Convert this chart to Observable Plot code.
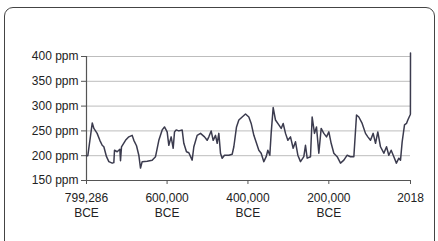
<!DOCTYPE html>
<html>
<head>
<meta charset="utf-8">
<script src="https://cdn.jsdelivr.net/npm/d3@7"></script>
<script src="https://cdn.jsdelivr.net/npm/@observablehq/plot@0.6"></script>
<style>
  html, body { margin: 0; padding: 0; background: #fff; }
  #wrap { position: relative; width: 438px; height: 241px; overflow: hidden; }
  #frame { position: absolute; left: 4px; top: 7px; width: 431px; height: 245px;
           border: 1.5px solid #444; border-radius: 9px; box-sizing: border-box; }
  #chart { position: absolute; left: 0; top: 0; }
</style>
</head>
<body>
<div id="wrap"><div id="frame"></div><div id="chart"></div></div>
<script>
// Year (negative = BCE) and CO2 concentration (ppm)
const years = [-799286,-796000,-785000,-781000,-773000,-766300,-760500,-756400,-749800,-744000,-735800,-731700,-730000,-723400,-716800,-715200,-712700,-702800,-694600,-686300,-682200,-675600,-669900,-665700,-661600,-649200,-636900,-628600,-620400,-612100,-606400,-599800,-595700,-589900,-584900,-581600,-577500,-570900,-562700,-558600,-552000,-546200,-538000,-533800,-525600,-517300,-507400,-500900,-496700,-491000,-486000,-480200,-476100,-472000,-467900,-463800,-458000,-447300,-439000,-434900,-428300,-422500,-414300,-406000,-397800,-392000,-385400,-378800,-373100,-367300,-360700,-354900,-350800,-345900,-342600,-337600,-331900,-323600,-317800,-312900,-307100,-301300,-294800,-288200,-282400,-276600,-270000,-261800,-257700,-253500,-245300,-241200,-235400,-230500,-224700,-218900,-212300,-205700,-199900,-194200,-187600,-179300,-171100,-162800,-154600,-146400,-138100,-131500,-125800,-117500,-109300,-103500,-96900,-90300,-84500,-78800,-72200,-63900,-57300,-51600,-45800,-39200,-32900,-26800,-22700,-18600,-12800,-7900,-4600,1000,1800,2018];
const co2 = [200,200,266,255,245,231,221,218,198,188,185,186,211,208,213,190,218,231,238,241,231,220,201,175,188,189,191,198,231,252,258,248,221,238,215,248,252,250,252,225,208,206,191,218,241,245,238,231,238,250,231,241,225,245,205,195,201,201,203,218,258,272,278,284,278,265,241,225,211,205,188,198,211,201,245,297,272,262,255,265,245,231,238,215,228,201,188,198,221,195,198,278,245,258,205,255,245,238,248,225,205,198,185,191,201,198,198,282,278,265,245,238,231,245,225,248,218,205,218,201,211,198,185,195,191,228,262,265,272,282,284,407];

const yTicks = [150, 200, 250, 300, 350, 400];
const gridTicks = [200, 250, 300, 350, 400];
const xTicks = [-799286, -600000, -400000, -200000, 2018];
const xTickLabels = ["799,286\nBCE", "600,000\nBCE", "400,000\nBCE", "200,000\nBCE", "2018"];

const data = years.map((y, i) => ({year: y, ppm: co2[i]}));

const chart = Plot.plot({
  width: 438,
  height: 241,
  marginLeft: 86,
  marginRight: 28,
  marginTop: 56,
  marginBottom: 61,
  style: {fontFamily: "'Liberation Sans', Arial, sans-serif", fontSize: "12px", color: "#222", background: "transparent", overflow: "visible"},
  x: {domain: [-799286, 2018]},
  y: {domain: [150, 400]},
  marks: [
    Plot.gridY(gridTicks, {stroke: "#bdbdbd", strokeOpacity: 1, strokeWidth: 1}),
    Plot.ruleY([150], {stroke: "#555", strokeWidth: 1.2}),
    Plot.ruleX([-799286], {stroke: "#555", strokeWidth: 1.2}),
    Plot.axisY(yTicks, {tickFormat: d => d + " ppm", tickSize: 5, tickPadding: 3, stroke: "#555", fill: "#222", fontSize: 12, label: null}),
    Plot.axisX(xTicks, {tickFormat: d => xTickLabels[xTicks.indexOf(d)], tickSize: 4, tickPadding: 7, stroke: "#555", fill: "#222", fontSize: 12, lineHeight: 1.25, label: null}),
    Plot.line(data, {x: "year", y: "ppm", stroke: "#3b3b4e", strokeWidth: 1.5, strokeLinejoin: "round", clip: false})
  ]
});
document.getElementById("chart").appendChild(chart);
</script>
</body>
</html>
